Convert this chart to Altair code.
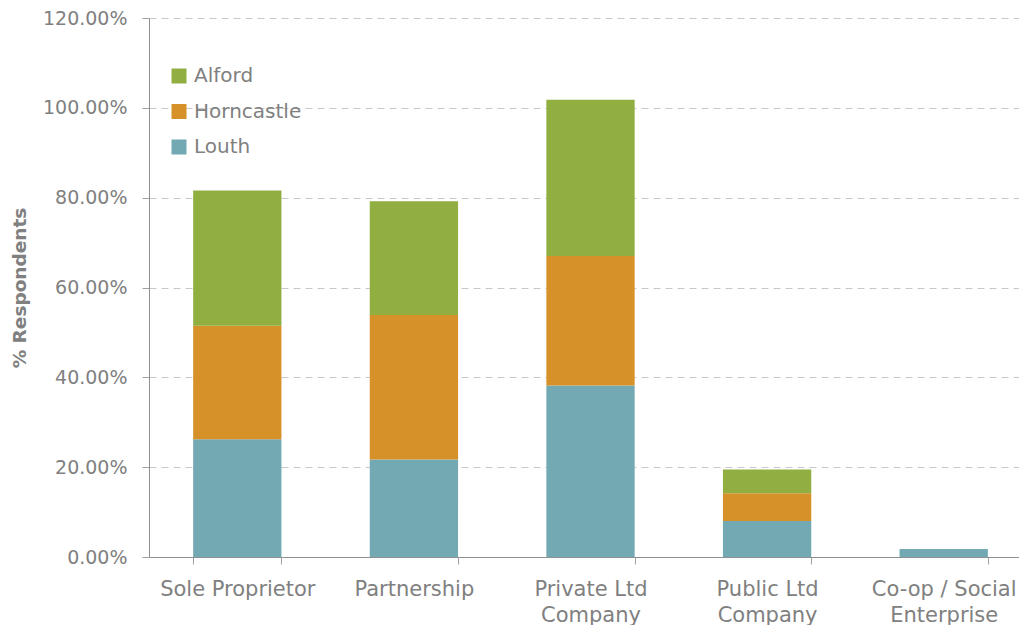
import altair as alt
import pandas as pd

categories = ["Sole Proprietor", "Partnership", "Private Ltd Company", "Public Ltd Company", "Co-op / Social Enterprise"]
label_line1 = ["Sole Proprietor", "Partnership", "Private Ltd", "Public Ltd", "Co-op / Social"]
label_line2 = ["", "", "Company", "Company", "Enterprise"]
series = ["Alford", "Horncastle", "Louth"]
louth = [26.2, 21.7, 38.2, 8.0, 1.8]
horncastle = [25.3, 32.2, 28.8, 6.2, 0.0]
alford = [30.1, 25.3, 34.8, 5.3, 0.0]
colors = ["#91AE41", "#D69228", "#72A9B3"]

rows = []
for i, c in enumerate(categories):
    for s, vals, order in (("Louth", louth, 0), ("Horncastle", horncastle, 1), ("Alford", alford, 2)):
        rows.append({"category": c, "series": s, "value": vals[i] / 100.0, "stack": order})
df = pd.DataFrame(rows)

label_map = "{" + ",".join(
    "'%s': %s" % (c, "['%s','%s']" % (a, b) if b else "'%s'" % a)
    for c, a, b in zip(categories, label_line1, label_line2)
) + "}"

FONT = "DejaVu Sans"
GRAY = "#808080"

chart = alt.Chart(df).mark_bar().encode(
    x=alt.X("category:N", sort=categories,
            scale=alt.Scale(paddingInner=0.5, paddingOuter=0.25, range=[0, 883]),
            axis=alt.Axis(title=None, labelAngle=0, labelFontSize=21, labelColor=GRAY,
                          labelFont=FONT, labelPadding=14, labelLineHeight=26,
                          labelExpr=label_map + "[datum.label]",
                          tickBand="extent", tickSize=7, tickColor="#a0a0a0",
                          domainColor="#909090", grid=False, labelBaseline="top")),
    y=alt.Y("value:Q", stack="zero",
            scale=alt.Scale(domain=[0, 1.2], nice=False),
            axis=alt.Axis(title="% Respondents", format=".2%", values=[0, 0.2, 0.4, 0.6, 0.8, 1.0, 1.2],
                          labelFontSize=19, labelColor=GRAY, labelFont=FONT, labelPadding=15,
                          tickSize=7, tickColor="#a0a0a0", domainColor="#909090",
                          gridDash=[7, 5], gridColor="#c8c8c8",
                          titleFont=FONT, titleFontSize=18.5, titleColor=GRAY, titleFontWeight="bold",
                          titlePadding=13)),
    color=alt.Color("series:N", scale=alt.Scale(domain=series, range=colors),
                    legend=alt.Legend(title=None, orient="none", legendX=20, legendY=48,
                                      symbolType="square", symbolSize=225, symbolStrokeWidth=0,
                                      labelFontSize=20, labelColor=GRAY, labelFont=FONT,
                                      rowPadding=15.5, labelOffset=5)),
    order=alt.Order("stack:Q", sort="ascending"),
).properties(
    width=870, height=539,
    autosize=alt.AutoSizeParams(type="none"),
    padding={"left": 141, "top": 10, "right": 0, "bottom": 68},
).configure_view(stroke=None).configure_axis(domainWidth=1)

chart.save("out.html", embed_options={"renderer": "svg", "actions": False})
